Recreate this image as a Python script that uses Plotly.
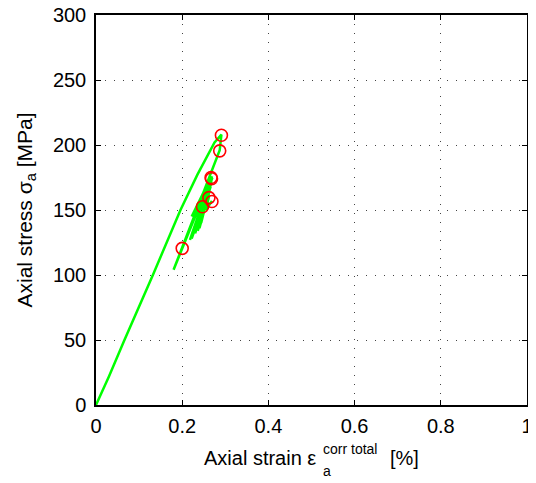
import plotly.graph_objects as go

# loading / cycling path (strain %, stress MPa)
strain = [0, 0.01, 0.03, 0.066, 0.132, 0.196, 0.235, 0.275, 0.291,
          0.287, 0.180,
          0.268, 0.218,
          0.270, 0.224,
          0.266, 0.230,
          0.268, 0.236,
          0.264, 0.240,
          0.269, 0.244,
          0.268, 0.222,
          0.265, 0.232,
          0.268, 0.222,
          0.262, 0.247,
          0.262, 0.255,
          0.269]
stress = [0, 7, 22, 50, 100, 150, 177, 202, 208,
          196, 104,
          176, 127,
          175, 130,
          168, 132,
          174, 134,
          165, 136,
          176, 140,
          172, 128,
          170, 136,
          174, 145,
          172, 152,
          160, 150,
          157]

# peak / valley markers
pk_strain = [0.291, 0.287, 0.267, 0.268, 0.262, 0.269, 0.247, 0.200]
pk_stress = [207.5, 195.5, 175, 174, 159.5, 156.5, 152.5, 120.5]

fig = go.Figure()
fig.add_trace(go.Scatter(x=strain, y=stress, mode='lines',
                         line=dict(color='#00ff00', width=2.5),
                         showlegend=False))
fig.add_trace(go.Scatter(x=pk_strain, y=pk_stress, mode='markers',
                         marker=dict(symbol='circle-open', size=12,
                                     color='#ff0000', line=dict(width=1.6)),
                         showlegend=False))

ax = dict(showline=True, linecolor='black', linewidth=1.5, mirror='ticks',
          ticks='inside', ticklen=5, tickcolor='black', tickwidth=1,
          showgrid=True, gridcolor='#444', gridwidth=1, griddash='1px,8px',
          zeroline=False, automargin=False, ticklabeloverflow='allow',
          tickfont=dict(size=20, color='black'))

# page body adds 8px, so the figure is 8px smaller than the window
fig.update_layout(
    width=528, height=475,
    margin=dict(l=88, r=9, t=7, b=78),
    plot_bgcolor='white', paper_bgcolor='white',
    font=dict(family='Liberation Sans, Arial, sans-serif', color='black'),
    xaxis=dict(ax, range=[0, 1], tickvals=[0, 0.2, 0.4, 0.6, 0.8, 1],
               ticktext=['0', '0.2', '0.4', '0.6', '0.8', '1'],
               ticklabelstandoff=2),
    yaxis=dict(ax, range=[0, 300], tickvals=[0, 50, 100, 150, 200, 250, 300],
               ticklabelstandoff=4,
               title=dict(text='Axial stress σ<sub>a</sub> [MPa]',
                          font=dict(size=21), standoff=15)),
)

# x label with stacked sub/superscript
fig.add_annotation(text='Axial strain ε', xref='paper', yref='paper',
                   x=0.514, y=0, xanchor='right', yanchor='middle', yshift=-53,
                   showarrow=False, font=dict(size=20))
fig.add_annotation(text='corr total', xref='paper', yref='paper',
                   x=0.521, y=0, xanchor='left', yanchor='middle', yshift=-44,
                   showarrow=False, font=dict(size=14))
fig.add_annotation(text='a', xref='paper', yref='paper',
                   x=0.521, y=0, xanchor='left', yanchor='middle', yshift=-66,
                   showarrow=False, font=dict(size=14))
fig.add_annotation(text='[%]', xref='paper', yref='paper',
                   x=0.677, y=0, xanchor='left', yanchor='middle', yshift=-53,
                   showarrow=False, font=dict(size=20))

fig.write_html('out.html')
